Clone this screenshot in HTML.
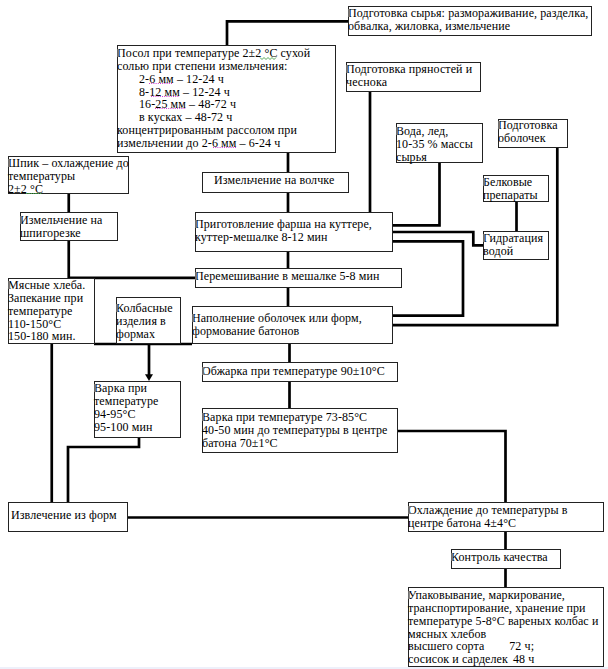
<!DOCTYPE html>
<html><head><meta charset="utf-8">
<style>
html,body{margin:0;padding:0;background:#fff;}
body{width:608px;height:669px;position:relative;overflow:hidden;font-family:"Liberation Serif",serif;font-size:12px;line-height:12.85px;color:#000;letter-spacing:0.1px;}
.b{position:absolute;box-sizing:border-box;border:1px solid #222;background:#fff;white-space:nowrap;}
.t{position:absolute;}
.cur{position:absolute;width:2px;height:8px;background:#7a7a7a;opacity:0.85;}
svg{position:absolute;left:0;top:0;}
.strip{position:absolute;left:0;top:667px;width:608px;height:2px;background:#eef0fa;}
</style></head><body>
<svg width="608" height="669" viewBox="0 0 608 669">
<g stroke="#000" stroke-width="2.7" fill="none" stroke-linecap="butt" stroke-linejoin="miter">
<path d="M348,21.3 H227 V45"/>
<path d="M288,152 V172"/>
<path d="M288,192 V212"/>
<path d="M288,251 V268"/>
<path d="M288,287 V306"/>
<path d="M289.5,343 V362"/>
<path d="M289.5,381 V408"/>
<path d="M370,91 V212"/>
<path d="M439.5,162 V225.3 H392"/>
<path d="M392,232 H473.3 V245.3 H483"/>
<path d="M516.5,201 V231"/>
<path d="M392,241.3 H463 V315.7 H392"/>
<path d="M557.3,147 V325.2 H392"/>
<path d="M68.75,193 V212"/>
<path d="M68.75,240 V277.8 H195"/>
<path d="M149,343 V375"/>
<path d="M51.75,343 V502"/>
<path d="M139,437 V447 H68 V502"/>
<path d="M127,517.5 H408"/>
<path d="M397,431 H505.5 V502"/>
<path d="M505.5,531 V549"/>
<path d="M505.5,568 V587"/>
<path d="M94,344 H192"/>
</g>
<polygon points="145,374.2 153,374.2 149,381" fill="#000"/>
</svg>
<div class="b" style="left:348px;top:6px;width:244px;height:30px;"><div class="t" style="top:0px;left:-1px;">Подготовка сырья: размораживание, разделка,<br>обвалка, жиловка, измельчение</div></div><div class="cur" style="left:348px;top:9px;"></div>
<div class="b" style="left:117px;top:45px;width:219px;height:108px;"><div class="t" style="top:1px;left:-1px;">Посол при температуре 2±2 °С сухой<br>солью при степени измельчения:<br><span style="padding-left:22px">2-6 мм – 12-24 ч</span><br><span style="padding-left:22px">8-12 мм – 12-24 ч</span><br><span style="padding-left:22px">16-25 мм – 48-72 ч</span><br><span style="padding-left:22px">в кусках – 48-72 ч</span><br>концентрированным рассолом при<br>измельчении до 2-6 мм – 6-24 ч</div></div><div class="cur" style="left:117px;top:49px;"></div>
<div class="b" style="left:346px;top:62px;width:135px;height:30px;"><div class="t" style="top:0px;left:-1px;">Подготовка пряностей и<br>чеснока</div></div><div class="cur" style="left:346px;top:65px;"></div>
<div class="b" style="left:396px;top:123px;width:87px;height:40px;"><div class="t" style="top:1px;left:-1px;">Вода, лед,<br>10-35 % массы<br>сырья</div></div><div class="cur" style="left:396px;top:127px;"></div>
<div class="b" style="left:498px;top:119px;width:70px;height:29px;"><div class="t" style="top:-1px;left:-1px;">Подготовка<br>оболочек</div></div><div class="cur" style="left:498px;top:121px;"></div>
<div class="b" style="left:8px;top:156px;width:121px;height:38px;"><div class="t" style="top:0px;left:-1px;">Шпик – охлаждение до<br>температуры<br>2±2 °С</div></div><div class="cur" style="left:8px;top:159px;"></div>
<div class="b" style="left:202px;top:172px;width:147px;height:21px;"><div class="t" style="top:1px;left:11px;">Измельчение на волчке</div></div>
<div class="b" style="left:483px;top:175px;width:66px;height:27px;"><div class="t" style="top:0px;left:-1px;">Белковые<br>препараты</div></div><div class="cur" style="left:483px;top:178px;"></div>
<div class="b" style="left:20px;top:212px;width:98px;height:29px;"><div class="t" style="top:1px;left:-1px;">Измельчение на<br>шпигорезке</div></div><div class="cur" style="left:20px;top:216px;"></div>
<div class="b" style="left:195px;top:212px;width:198px;height:40px;"><div class="t" style="top:5px;left:-1px;">Приготовление фарша на куттере,<br>куттер-мешалке 8-12 мин</div></div><div class="cur" style="left:195px;top:220px;"></div>
<div class="b" style="left:483px;top:231px;width:66px;height:29px;"><div class="t" style="top:0px;left:-1px;">Гидратация<br>водой</div></div><div class="cur" style="left:483px;top:234px;"></div>
<div class="b" style="left:195px;top:268px;width:207px;height:20px;"><div class="t" style="top:1px;left:-1px;">Перемешивание в мешалке 5-8 мин</div></div><div class="cur" style="left:195px;top:272px;"></div>
<div class="b" style="left:8px;top:278px;width:87px;height:66px;"><div class="t" style="top:0px;left:-1px;">Мясные хлеба.<br>Запекание при<br>температуре<br>110-150°С<br>150-180 мин.</div></div><div class="cur" style="left:8px;top:281px;"></div>
<div class="b" style="left:116px;top:297px;width:65px;height:47px;"><div class="t" style="top:4px;left:-1px;">Колбасные<br>изделия в<br>формах</div></div><div class="cur" style="left:116px;top:304px;"></div>
<div class="b" style="left:192px;top:306px;width:201px;height:38px;"><div class="t" style="top:5px;left:-1px;">Наполнение оболочек или форм,<br>формование батонов</div></div><div class="cur" style="left:192px;top:314px;"></div>
<div class="b" style="left:202px;top:362px;width:196px;height:20px;"><div class="t" style="top:2px;left:-1px;">Обжарка при температуре 90±10°С</div></div><div class="cur" style="left:202px;top:367px;"></div>
<div class="b" style="left:94px;top:381px;width:87px;height:57px;"><div class="t" style="top:0px;left:-1px;">Варка при<br>температуре<br>94-95°С<br>95-100 мин</div></div><div class="cur" style="left:94px;top:384px;"></div>
<div class="b" style="left:202px;top:408px;width:196px;height:45px;"><div class="t" style="top:2px;left:-1px;">Варка при температуре 73-85°С<br>40-50 мин до температуры в центре<br>батона 70±1°С</div></div><div class="cur" style="left:202px;top:413px;"></div>
<div class="b" style="left:8px;top:502px;width:120px;height:30px;"><div class="t" style="top:6px;left:2px;">Извлечение из форм</div></div>
<div class="b" style="left:408px;top:502px;width:196px;height:30px;"><div class="t" style="top:1px;left:-1px;">Охлаждение до температуры в<br>центре батона 4±4°С</div></div><div class="cur" style="left:408px;top:506px;"></div>
<div class="b" style="left:451px;top:549px;width:110px;height:20px;"><div class="t" style="top:1px;left:-1px;">Контроль качества</div></div><div class="cur" style="left:451px;top:553px;"></div>
<div class="b" style="left:408px;top:587px;width:196px;height:80px;"><div class="t" style="top:1px;left:-1px;">Упаковывание, маркирование,<br>транспортирование, хранение при<br>температуре 5-8°С вареных колбас и<br>мясных хлебов<br>высшего сорта&nbsp;&nbsp;&nbsp;&nbsp;&nbsp;&nbsp;&nbsp;&nbsp;72 ч;<br>сосисок и сарделек&nbsp;&nbsp;<span style="margin-left:-1.3px">48 ч</span></div></div><div class="cur" style="left:408px;top:591px;"></div>
<svg width="608" height="669" viewBox="0 0 608 669">
<g stroke="#d23cd2" stroke-width="1" stroke-dasharray="1 1.2" fill="none">
<path d="M149,83.5 H173"/><path d="M151,96.5 H179"/><path d="M155,108.5 H186"/><path d="M213,147.5 H236"/>
</g>
<g stroke="#43a047" stroke-width="0.9" fill="none">
<polyline points="260,57.5 262,59.5 264,57.5 266,59.5 268,57.5 270,59.5 272,57.5 274,59.5 276,57.5"/>
<path d="M26,193.5 H42" stroke-width="1" stroke-dasharray="1.5 0.8"/>
</g>
</svg>
<div class="strip"></div>
</body></html>
